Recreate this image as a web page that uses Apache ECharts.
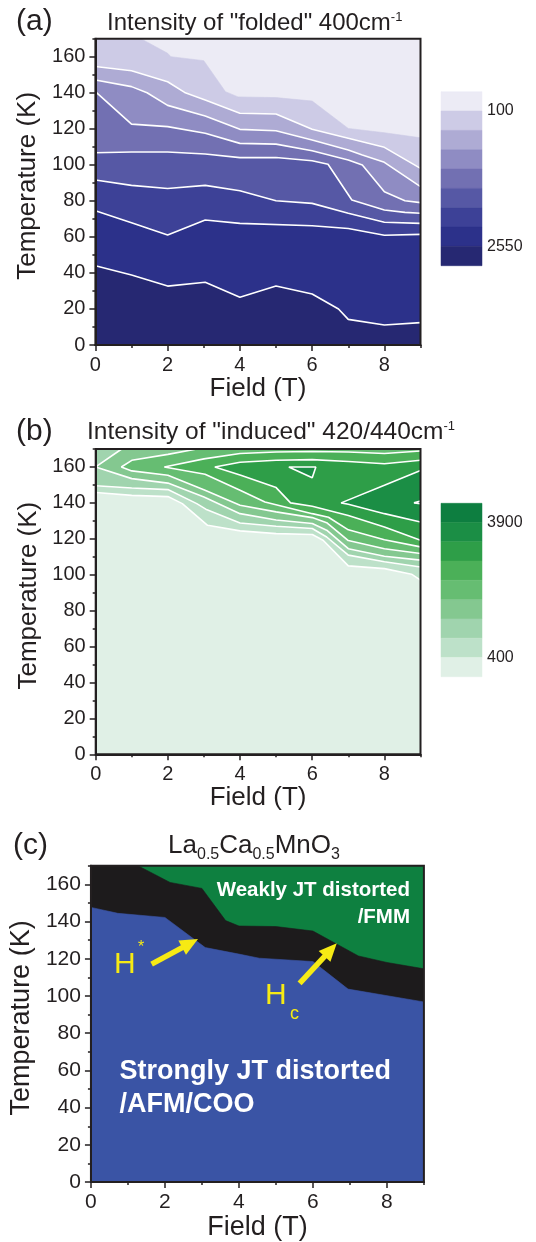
<!DOCTYPE html>
<html><head><meta charset="utf-8">
<script src="https://cdn.jsdelivr.net/npm/echarts@6/dist/echarts.min.js"></script>
<style>html,body{margin:0;padding:0;background:#fff}#c{width:536px;height:1242px}</style>
</head><body><div id="c"></div>
<script>
// ---------- shared axis values ----------
const fieldMajor = [0, 2, 4, 6, 8];
const fieldMinor = [1, 3, 5, 7, 9];
const tempMajor = [0, 20, 40, 60, 80, 100, 120, 140, 160];
const tempMinor = [10, 30, 50, 70, 90, 110, 130, 150, 170];
const F_MAX = 9, T_MAX = 170;

// ---------- panel (a): "folded" 400 cm-1 ----------
const aColors = ['#ECEBF5','#CDCBE6','#AEABD4','#8F8CC3','#7270B2','#5658A5','#3D4197','#2C318A','#262872']; // light -> dark
const aBarTickPos = [8, 1];
const aBarTickText = ['100', '2550'];
const aTop = [[0,170],[1.26,170],[2,161.9],[2.09,160],[3,157.8],[3.6,140.6],[3.95,137.7],[5,137.3],[6,135.4],[7,120.2],[8,117.8],[9,115.0]];
const aL1 = [[0,154.6],[1,152.2],[2,146.1],[2.47,140.2],[3.04,136],[4,128.6],[5,128.2],[6,119.7],[7,114.7],[8,109.7],[9,98]];
const aL2 = [[0,147.1],[1,143.4],[1.43,140],[2,133],[3.04,127.1],[4,119.7],[5,118.9],[6,113.8],[7,108.2],[7.39,105.4],[8,101.4],[9,87.9]];
const aL3 = [[0,140.6],[1,122.6],[2,121.2],[3.04,117.5],[4,111.9],[5,111.5],[6,107.8],[7,102.7],[7.39,99.9],[8,85.1],[8.57,80.1],[9,79]];
const aL4 = [[0,106.7],[1,107.1],[2,107.1],[3.04,106],[4,104],[5,104.1],[6,102.3],[6.44,100.3],[7.1,80.5],[8,74.9],[8.57,73.6],[9,73.1]];
const aL5 = [[0,91.6],[1,88.6],[2,86.9],[3.04,88.6],[4,85.6],[5,80.1],[6,78.6],[7,73.1],[8,68.1],[9,67.5]];
const aL6 = [[0,74.5],[1,67.9],[2,61],[3.04,69.4],[4,67.5],[6,66.2],[7,64.7],[8,60.9],[9,61.4]];
const aL7 = [[0,44],[1,38.8],[2,32.7],[3.04,34.8],[4,26.5],[5,32.7],[6,28.3],[6.73,20],[7,14.2],[8,11.1],[9,12.4]];

// ---------- panel (b): "induced" 420/440 cm-1 ----------
const bColors = ['#0D7E40','#1B8E45','#2E9E48','#4BB058','#66BD72','#84C890','#A0D4AE','#BDE1C9','#E0F0E6']; // dark -> light
const bBarTickPos = [8, 1];
const bBarTickText = ['3900', '400'];
const bL1 = [[0,145.8],[1,144.2],[2,143.5],[2.4,139.6],[3.1,127.5],[4,124.4],[5,122.9],[6,122.4],[6.3,119.2],[7,104.9],[8,103.4],[8.75,100.3],[9,97]];
const bL2 = [[0,149.5],[1,148.3],[2,147.4],[2.8,139.6],[3.05,136.5],[4,128.8],[5,127],[6,125.7],[6.4,121],[7,110.9],[8,107.2],[9,104.3]];
const bW3up = [[0,160],[0.72,170]];
const bW3lo = [[0,160],[1,153.5],[2,151],[3,143.3],[4,134],[5,130.5],[6,128.5],[6.4,124.8],[7,114.5],[8,110.3],[9,108.1]];
const bW4up = [[0.71,160],[1,163.7],[2,167],[2.8,170]];
const bW4lo = [[0.71,160],[1,157.8],[2,155.4],[3.03,147],[4,138.7],[5,135],[6,131.8],[6.4,129],[7,119],[8,114.5],[9,111.8]];
const bW5up = [[1.9,160],[3,164.5],[4,167.5],[5,168.3],[6,168.6],[7,168.3],[8,167.5],[9,168.9]];
const bW5lo = [[1.9,160],[3.03,155.9],[4,147],[4.69,140.5],[6,134],[6.45,132],[7,125],[8,119.5],[9,115.5]];
const bW6up = [[3.3,160],[4,162.6],[5,163.7],[6,164.1],[7,163],[8,161.8],[9,163.7]];
const bW6lo = [[3.3,160],[4.02,155.4],[5,148.5],[5.4,140],[6,138.1],[7,133],[8,126.6],[9,119.2]];
const bW7up = [[6.8,140],[8,149.8],[9,158]];
const bW7lo = [[6.8,140],[7,139.2],[8,134],[9,129.4]];
const bTri = [[5.35,160],[6.1,160],[6,154],[5.35,160]];
const bTiny = [[9,141],[8.82,140],[9,139.5]];

// ---------- panel (c): phase diagram ----------
const cColors = {green:'#0E8040', black:'#1D1B1C', blue:'#3A54A5'};
const cUpper = [[0,170],[1.27,170],[2.14,161],[3,157.8],[3.64,140.5],[4,137.6],[5,137.3],[6,134.9],[7.23,121.5],[8,118],[9,114.6]];
const cLower = [[0,147.6],[0.73,144.4],[2,142.2],[3.09,126],[4,122.5],[4.55,120.3],[6,118.5],[6.95,103.7],[9,96.8]];
const cArrows = [[[1.64,117.1],[2.68,128.3]], [[5.64,106.8],[6.48,124.8]]];

// ---------- builders ----------
const INK = '#231F20';
const FONT = "'Liberation Sans', Arial, sans-serif";
const YEL = '#F6EA14';

function mainX(gi, fs, nfs, gap){
  return {gridIndex:gi, type:'value', min:0, max:F_MAX, position:'bottom', z:10,
    axisLine:{show:true, onZero:false, lineStyle:{color:INK,width:2}},
    axisTick:{show:true, customValues:fieldMajor, length:6, lineStyle:{color:INK,width:1.5}},
    axisLabel:{customValues:fieldMajor, fontSize:fs, color:INK, margin:10, fontFamily:FONT},
    splitLine:{show:false},
    name:'Field (T)', nameLocation:'middle', nameGap:gap,
    nameTextStyle:{fontSize:nfs, color:INK, fontFamily:FONT}};
}
function minorX(gi){
  return {gridIndex:gi, type:'value', min:0, max:F_MAX, position:'bottom', z:10,
    axisLine:{show:false}, axisLabel:{show:false}, splitLine:{show:false},
    axisTick:{show:true, customValues:fieldMinor, length:3, lineStyle:{color:INK,width:1.5}}};
}
function mainY(gi, fs, nfs, gap){
  return {gridIndex:gi, type:'value', min:0, max:T_MAX, position:'left', z:10,
    axisLine:{show:true, onZero:false, lineStyle:{color:INK,width:2}},
    axisTick:{show:true, customValues:tempMajor, length:6, lineStyle:{color:INK,width:1.5}},
    axisLabel:{customValues:tempMajor, fontSize:fs, color:INK, margin:10, fontFamily:FONT},
    splitLine:{show:false},
    name:'Temperature (K)', nameLocation:'middle', nameGap:gap,
    nameTextStyle:{fontSize:nfs, color:INK, fontFamily:FONT, padding:[0,0,0,12]}};
}
function minorY(gi){
  return {gridIndex:gi, type:'value', min:0, max:T_MAX, position:'left', z:10,
    axisLine:{show:false}, axisLabel:{show:false}, splitLine:{show:false},
    axisTick:{show:true, customValues:tempMinor, length:3, lineStyle:{color:INK,width:1.5}}};
}
function cbX(gi){ return {gridIndex:gi, type:'value', min:0, max:1, show:false}; }
function cbY(gi, pos, txt){
  return {gridIndex:gi, type:'value', min:0, max:9, position:'right',
    axisLine:{show:false}, axisTick:{show:false}, splitLine:{show:false},
    axisLabel:{customValues:pos, formatter:v=>txt[pos.indexOf(v)], fontSize:16, color:INK, margin:5, fontFamily:FONT}};
}

function polySeries(p, polys, z){
  return {type:'custom', xAxisIndex:p*2, yAxisIndex:p*2, z:z||2, silent:true, clip:true,
    data: polys.map((q,i)=>[i]),
    renderItem:(params, api)=>{
      const q = polys[params.dataIndex];
      return {type:'polygon', shape:{points:q.pts.map(pt=>api.coord(pt))},
        style:{fill:q.color, stroke:q.color, lineWidth:0.6}};
    }};
}
function lineSeries(p, pts){
  return {type:'line', xAxisIndex:p*2, yAxisIndex:p*2, z:4, silent:true, clip:true,
    data:pts, symbol:'none', showSymbol:false, lineStyle:{color:'#fff', width:1.6}};
}
function frameSeries(p){
  return {type:'custom', xAxisIndex:p*2, yAxisIndex:p*2, z:8, silent:true, data:[[0,0]],
    renderItem:(params, api)=>{
      const a = api.coord([0,T_MAX]), b = api.coord([F_MAX,0]);
      return {type:'rect', shape:{x:a[0],y:a[1],width:b[0]-a[0],height:b[1]-a[1]},
        style:{fill:'none', stroke:INK, lineWidth:2}};
    }};
}
function barSeries(xi, colors){
  return {type:'custom', xAxisIndex:xi, yAxisIndex:xi, silent:true,
    data: colors.map((c,i)=>[i]),
    renderItem:(params, api)=>{
      const i = params.dataIndex;
      const p1 = api.coord([0, 9-i]), p2 = api.coord([1, 8-i]);
      return {type:'rect', shape:{x:p1[0], y:p1[1], width:p2[0]-p1[0], height:p2[1]-p1[1]},
        style:{fill:colors[i], stroke:colors[i], lineWidth:0.5}};
    }};
}
const below = (line, col) => ({pts: line.concat([[F_MAX,0],[0,0]]), color: col});
const above = (line, col) => ({pts: line.concat([[F_MAX,T_MAX],[0,T_MAX]]), color: col});
const wedge = (up, lo, col, viaTop) => ({pts: lo.concat(viaTop ? [[F_MAX,T_MAX]] : [], up.slice().reverse()), color: col});
const vline = (up, lo) => up.slice().reverse().concat(lo.slice(1));

// panel a polygons (painter's order, top band first)
const aPolys = [
  {pts:[[0,0],[F_MAX,0],[F_MAX,T_MAX],[0,T_MAX]], color:aColors[0]},
  below(aTop, aColors[1]), below(aL1, aColors[2]), below(aL2, aColors[3]), below(aL3, aColors[4]),
  below(aL4, aColors[5]), below(aL5, aColors[6]), below(aL6, aColors[7]), below(aL7, aColors[8])
];
const aLines = [aL1, aL2, aL3, aL4, aL5, aL6, aL7];

// panel b polygons (lightest first)
const bPolys = [
  {pts:[[0,0],[F_MAX,0],[F_MAX,T_MAX],[0,T_MAX]], color:bColors[8]},
  above(bL1, bColors[7]), above(bL2, bColors[6]),
  wedge(bW3up, bW3lo, bColors[5], true),
  wedge(bW4up, bW4lo, bColors[4], true),
  wedge(bW5up, bW5lo, bColors[3]),
  wedge(bW6up, bW6lo, bColors[2]),
  wedge(bW7up, bW7lo, bColors[1]),
  {pts:bTri, color:bColors[1]},
  {pts:bTiny, color:bColors[0]}
];
const bLines = [bL1, bL2, vline(bW3up,bW3lo), vline(bW4up,bW4lo), vline(bW5up,bW5lo), vline(bW6up,bW6lo), vline(bW7up,bW7lo), bTri, bTiny];

// panel c polygons
const cPolys = [
  {pts:[[0,0],[F_MAX,0],[F_MAX,T_MAX],[0,T_MAX]], color:cColors.green},
  below(cUpper, cColors.black),
  below(cLower, cColors.blue)
];

const series = [];
series.push(polySeries(0, aPolys));
aLines.forEach(l=>series.push(lineSeries(0, l)));
series.push(frameSeries(0));
series.push(polySeries(1, bPolys));
bLines.forEach(l=>series.push(lineSeries(1, l)));
series.push(frameSeries(1));
series.push(polySeries(2, cPolys));
series.push(frameSeries(2));
series.push({type:'line', xAxisIndex:4, yAxisIndex:4, z:6, silent:true, data:[[0,0]], symbol:'none',
  lineStyle:{opacity:0},
  markLine:{silent:true, animation:false, symbol:['none','triangle'], symbolSize:[16,18], label:{show:false},
    lineStyle:{color:YEL, width:5.5, type:'solid', opacity:1}, emphasis:{disabled:true},
    data: cArrows.map(a=>[{coord:a[0]},{coord:a[1]}])}});
series.push(barSeries(6, aColors));
series.push(barSeries(7, bColors));

const txt = (x, y, text, o) => ({type:'text', x, y, z:20, style:Object.assign({text, fontFamily:FONT, fill:INK, verticalAlign:'middle', align:'left'}, o||{})});

const option = {
  animation:false,
  backgroundColor:'#fff',
  grid:[
    {left:95.4, top:38.7, width:325.1, height:306.3},
    {left:95.7, top:449, width:324.8, height:305.3},
    {left:85.5, top:865.7, width:338.4, height:317.6},
    {left:441, top:91.7, width:41, height:174},
    {left:441, top:503.3, width:41, height:173.4}
  ],
  xAxis:[mainX(0,20,26,27), minorX(0), mainX(1,20,26,29), minorX(1), mainX(2,21,27,31), minorX(2), cbX(3), cbX(4)],
  yAxis:[mainY(0,20,26,47), minorY(0), mainY(1,20,26,47), minorY(1), mainY(2,21,27,45), minorY(2),
         cbY(3, aBarTickPos, aBarTickText), cbY(4, bBarTickPos, bBarTickText)],
  series,
  graphic:[
    txt(16, 22, '(a)', {fontSize:30}),
    txt(107, 23, '{m|Intensity of "folded" 400cm}{s|-1}', {rich:{m:{fontSize:24, fontFamily:FONT, fill:INK}, s:{fontSize:13, fontFamily:FONT, fill:INK, verticalAlign:'top'}}}),
    txt(16, 432, '(b)', {fontSize:30}),
    txt(87, 432, '{m|Intensity of "induced" 420/440cm}{s|-1}', {rich:{m:{fontSize:24.5, fontFamily:FONT, fill:INK}, s:{fontSize:13, fontFamily:FONT, fill:INK, verticalAlign:'top'}}}),
    txt(13, 846, '(c)', {fontSize:30}),
    txt(254, 848, '{m|La}{s|0.5}{m|Ca}{s|0.5}{m|MnO}{s|3}', {align:'center', rich:{
      m:{fontSize:26, lineHeight:30, verticalAlign:'top', fontFamily:FONT, fill:INK},
      s:{fontSize:16, lineHeight:18, verticalAlign:'bottom', padding:[19,0,0,0], fontFamily:FONT, fill:INK}}}),
    txt(410, 890, 'Weakly JT distorted', {align:'right', fontSize:20.5, fontWeight:'bold', fill:'#fff'}),
    txt(410, 917, '/FMM', {align:'right', fontSize:20.5, fontWeight:'bold', fill:'#fff'}),
    txt(119.6, 1072, 'Strongly JT distorted', {fontSize:27, fontWeight:'bold', fill:'#fff'}),
    txt(119.6, 1105, '/AFM/COO', {fontSize:27, fontWeight:'bold', fill:'#fff'}),
    txt(114, 965, 'H', {fontSize:30, fill:YEL}),
    txt(138, 948, '*', {fontSize:16, fill:YEL}),
    txt(265, 996, 'H', {fontSize:30, fill:YEL}),
    txt(290, 1014, 'c', {fontSize:18, fill:YEL})
  ]
};
const chart = echarts.init(document.getElementById('c'), null, {renderer:'canvas'});
chart.setOption(option);
</script></body></html>
